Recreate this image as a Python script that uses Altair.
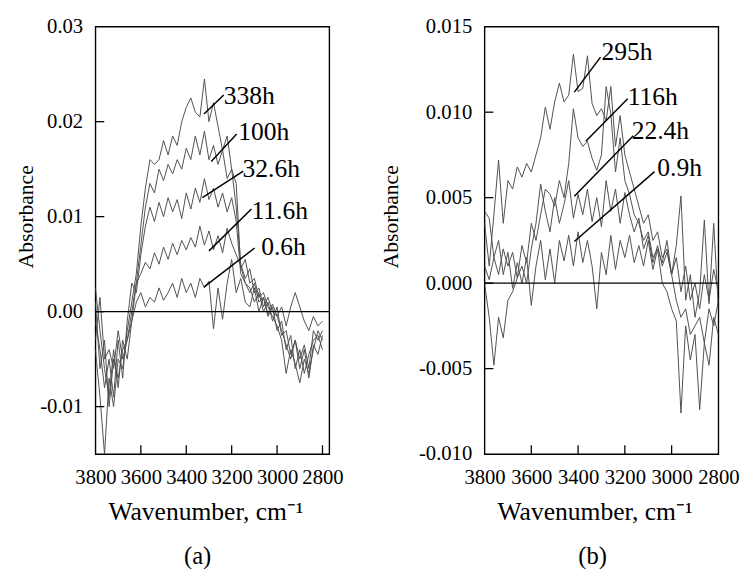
import altair as alt
import pandas as pd

FONT = "Liberation Serif"

# ---------------- data ----------------
wavenumber = [3800, 3780, 3760, 3740, 3720, 3700, 3680, 3660, 3640, 3620,
              3600, 3580, 3560, 3540, 3520, 3500, 3480, 3460, 3440, 3420,
              3400, 3380, 3360, 3340, 3320, 3300, 3280, 3260, 3240, 3220,
              3200, 3180, 3160, 3140, 3120, 3100, 3080, 3060, 3040, 3020,
              3000, 2980, 2960, 2940, 2920, 2900, 2880, 2860, 2840, 2820, 2800]

# panel (a)
a_names = ["338h", "100h", "32.6h", "11.6h", "0.6h"]
a_338h = [-0.0040, -0.0090, -0.0150, -0.0070, -0.0100, -0.0050, -0.0060, -0.0020, 0.0010, 0.0040,
          0.0090, 0.0130, 0.0160, 0.0155, 0.0160, 0.0180, 0.0165, 0.0185, 0.0175, 0.0200,
          0.0215, 0.0225, 0.0210, 0.0205, 0.0245, 0.0200, 0.0220, 0.0195, 0.0170, 0.0185,
          0.0150, 0.0135, 0.0045, 0.0055, 0.0030, 0.0035, 0.0015, 0.0020, 0.0005, -0.0005,
          -0.0015, -0.0030, -0.0065, -0.0040, -0.0055, -0.0075, -0.0050, -0.0065, -0.0040, -0.0020, -0.0030]
a_100h = [0.0025, -0.0020, -0.0060, -0.0090, -0.0040, -0.0080, -0.0030, -0.0050, -0.0010, 0.0030,
          0.0070, 0.0110, 0.0135, 0.0125, 0.0150, 0.0138, 0.0155, 0.0145, 0.0160, 0.0150,
          0.0172, 0.0160, 0.0185, 0.0165, 0.0190, 0.0160, 0.0175, 0.0155, 0.0170, 0.0140,
          0.0150, 0.0110, 0.0050, 0.0035, 0.0045, 0.0020, 0.0025, 0.0005, 0.0015, 0.0000,
          -0.0005, -0.0020, -0.0035, -0.0050, -0.0030, -0.0060, -0.0040, -0.0070, -0.0035, -0.0045, -0.0025]
a_32h = [-0.0010, -0.0040, -0.0080, -0.0050, -0.0090, -0.0030, -0.0070, -0.0010, 0.0030, 0.0020,
         0.0060, 0.0090, 0.0110, 0.0095, 0.0115, 0.0100, 0.0120, 0.0105, 0.0118, 0.0098,
         0.0125, 0.0108, 0.0130, 0.0115, 0.0140, 0.0118, 0.0130, 0.0110, 0.0125, 0.0105,
         0.0120, 0.0095, 0.0040, 0.0030, 0.0020, 0.0030, 0.0010, 0.0015, -0.0005, 0.0005,
         -0.0020, -0.0010, -0.0040, -0.0025, -0.0060, -0.0040, -0.0065, -0.0045, -0.0030, -0.0025, -0.0040]
a_11h = [0.0010, -0.0060, -0.0030, -0.0100, -0.0050, -0.0070, -0.0040, -0.0030, 0.0000, 0.0030,
         0.0040, 0.0052, 0.0045, 0.0062, 0.0050, 0.0068, 0.0055, 0.0072, 0.0060, 0.0075,
         0.0065, 0.0078, 0.0068, 0.0090, 0.0070, 0.0085, 0.0065, 0.0080, 0.0062, 0.0088,
         0.0072, 0.0060, 0.0048, 0.0030, 0.0025, 0.0010, 0.0020, 0.0000, 0.0010, -0.0010,
         0.0005, -0.0025, -0.0020, -0.0045, -0.0030, -0.0050, -0.0035, -0.0060, -0.0020, -0.0030, -0.0020]
a_06h = [-0.0030, 0.0015, -0.0050, -0.0040, -0.0060, -0.0020, -0.0050, -0.0030, -0.0010, 0.0010,
         0.0020, 0.0005, 0.0015, 0.0010, 0.0025, 0.0012, 0.0020, 0.0030, 0.0015, 0.0035,
         0.0020, 0.0030, 0.0015, 0.0035, 0.0025, 0.0032, -0.0018, 0.0025, -0.0008, 0.0030,
         0.0055, 0.0020, 0.0035, 0.0010, 0.0005, 0.0025, 0.0000, 0.0015, -0.0003, 0.0008,
         -0.0005, 0.0005, -0.0015, 0.0005, 0.0020, 0.0005, -0.0010, -0.0020, -0.0005, -0.0015, -0.0010]

# panel (b)
b_names = ["295h", "116h", "22.4h", "0.9h"]
b_295h = [0.0035, 0.0010, 0.0040, 0.0072, 0.0035, 0.0060, 0.0055, 0.0068, 0.0062, 0.0070,
          0.0065, 0.0075, 0.0085, 0.0103, 0.0090, 0.0106, 0.0117, 0.0106, 0.0110, 0.0134,
          0.0112, 0.0114, 0.0133, 0.0105, 0.0098, 0.0102, 0.0095, 0.0115, 0.0080, 0.0098,
          0.0075, 0.0065, 0.0055, 0.0045, 0.0035, 0.0040, 0.0025, 0.0030, 0.0015, 0.0020,
          0.0005, -0.0010, -0.0020, -0.0015, -0.0030, -0.0025, -0.0020, -0.0035, -0.0015, -0.0025, -0.0010]
b_116h = [0.0010, 0.0002, 0.0015, 0.0005, 0.0020, 0.0010, 0.0018, 0.0003, 0.0022, 0.0012,
          0.0035, 0.0025, 0.0040, 0.0055, 0.0052, 0.0045, 0.0060, 0.0050, 0.0070, 0.0102,
          0.0085, 0.0080, 0.0083, 0.0073, 0.0066, 0.0075, 0.0115, 0.0099, 0.0065, 0.0085,
          0.0060, 0.0052, 0.0040, 0.0035, 0.0025, 0.0030, 0.0015, 0.0020, 0.0000, -0.0005,
          -0.0015, -0.0022, -0.0076, -0.0025, -0.0045, -0.0030, -0.0074, -0.0035, -0.0048, -0.0020, -0.0030]
b_22h = [0.0000, -0.0020, -0.0048, -0.0020, -0.0032, -0.0010, -0.0005, 0.0003, 0.0010, 0.0000,
         0.0020, 0.0035, 0.0058, 0.0042, 0.0030, 0.0050, 0.0035, 0.0046, 0.0060, 0.0038,
         0.0052, 0.0040, 0.0055, 0.0036, 0.0050, 0.0033, 0.0060, 0.0042, 0.0055, 0.0035,
         0.0053, 0.0040, 0.0030, 0.0038, 0.0020, 0.0028, 0.0012, 0.0022, 0.0010, 0.0018,
         0.0005, 0.0022, 0.0051, -0.0010, 0.0005, -0.0020, -0.0005, 0.0037, -0.0012, 0.0035, -0.0015]
b_09h = [0.0042, 0.0038, 0.0015, 0.0025, 0.0005, 0.0018, -0.0003, 0.0012, 0.0000, 0.0015,
         -0.0013, 0.0010, 0.0025, 0.0002, 0.0020, 0.0000, 0.0025, 0.0013, 0.0028, 0.0010,
         0.0030, 0.0012, 0.0025, 0.0010, -0.0015, 0.0018, 0.0005, 0.0028, 0.0008, 0.0025,
         0.0015, 0.0028, 0.0012, 0.0022, 0.0010, 0.0025, 0.0008, 0.0020, 0.0012, 0.0025,
         0.0005, 0.0015, -0.0005, 0.0010, -0.0010, 0.0000, -0.0015, 0.0005, -0.0010, 0.0008, -0.0005]

# callouts (line start on curve, line end near label, label anchor)
a_call_x1 = [3322, 3290, 3329, 3300, 3321]
a_call_y1 = [0.0208, 0.0158, 0.0120, 0.0064, 0.0026]
a_call_x2 = [3235, 3178, 3149, 3113, 3099]
a_call_y2 = [0.0228, 0.0187, 0.0148, 0.0108, 0.0067]
a_text_x = [3235, 3171, 3152, 3113, 3070]
a_text_y = [0.0227, 0.0189, 0.0150, 0.0106, 0.0068]

b_call_x1 = [3416, 3367, 3416, 3416]
b_call_y1 = [0.01117, 0.0083, 0.00508, 0.00244]
b_call_x2 = [3304, 3188, 3164, 3073]
b_call_y2 = [0.01322, 0.01079, 0.00862, 0.00652]
b_text_x = [3300, 3188, 3171, 3061]
b_text_y = [0.01351, 0.0109, 0.00889, 0.0067]

# axes
x_labels = [3800, 3600, 3400, 3200, 3000, 2800]
a_y_labels = [-0.01, 0.0, 0.01, 0.02, 0.03]
b_y_labels = [-0.010, -0.005, 0.0, 0.005, 0.010, 0.015]
a_x_ticks = [3600, 3400, 3200, 3000, 2800]
b_x_ticks = [3600, 3400, 3200, 3000]
a_y_ticks = [-0.01, 0.0, 0.01, 0.02]
b_y_ticks = [-0.005, 0.0, 0.005, 0.010]
zero_line = [0.0]

W, H = 238, 435
TICK = 9


def long_df(names, series):
    rows = []
    for name, vals in zip(names, series):
        for w, v in zip(wavenumber, vals):
            rows.append({"w": w, "A": v, "s": name})
    return pd.DataFrame(rows)


def panel(names, series, xdom, ydom, ylabels, yfmt, xticks, yticks,
          cx1, cy1, cx2, cy2, tx, ty, tag, tag_dx, ytitle_pad):
    xs = alt.Scale(domain=xdom, reverse=True, nice=False, zero=False)
    ys = alt.Scale(domain=ydom, nice=False, zero=False)
    minus = "\u2212"
    xax = alt.Axis(
        values=x_labels, format="d", ticks=False, domain=False, grid=False,
        labelFlush=False, labelOverlap=False,
        labelFont=FONT, labelFontSize=21, labelColor="black", labelPadding=13,
        title="Wavenumber, cm\u207b\u00b9", titleFont=FONT, titleFontSize=26,
        titleFontWeight="normal", titleColor="black", titlePadding=12,
        titleX=112)
    yax = alt.Axis(
        values=ylabels,
        labelExpr=f"replace(format(datum.value, '{yfmt}'), '{minus}', '-')",
        ticks=False, domain=False, grid=False, labelOverlap=False,
        labelFont=FONT, labelFontSize=21, labelColor="black", labelPadding=13,
        title="Absorbance", titleFont=FONT, titleFontSize=22,
        titleFontWeight="normal", titleColor="black",
        titlePadding=ytitle_pad, titleY=193)

    lines = alt.Chart(long_df(names, series)).mark_line(
        color="#505050", strokeWidth=1, clip=True
    ).encode(
        x=alt.X("w:Q", scale=xs, axis=xax),
        y=alt.Y("A:Q", scale=ys, axis=yax),
        detail="s:N",
    )
    zero = alt.Chart(pd.DataFrame({"v": zero_line})).mark_rule(
        color="black", strokeWidth=1.4
    ).encode(y=alt.Y("v:Q", scale=ys, axis=yax))
    ytk = alt.Chart(pd.DataFrame({"v": yticks})).mark_rule(
        color="black", strokeWidth=1.3
    ).encode(y=alt.Y("v:Q", scale=ys, axis=yax), x=alt.value(0), x2=alt.value(TICK))
    xtk = alt.Chart(pd.DataFrame({"v": xticks})).mark_rule(
        color="black", strokeWidth=1.3
    ).encode(x=alt.X("v:Q", scale=xs, axis=xax), y=alt.value(H), y2=alt.value(H - TICK))
    cdf = pd.DataFrame({"x1": cx1, "y1": cy1, "x2": cx2, "y2": cy2})
    call = alt.Chart(cdf).mark_rule(color="black", strokeWidth=1.5).encode(
        x=alt.X("x1:Q", scale=xs, axis=xax), x2="x2:Q",
        y=alt.Y("y1:Q", scale=ys, axis=yax), y2="y2:Q")
    tdf = pd.DataFrame({"x": tx, "y": ty, "t": names})
    txt = alt.Chart(tdf).mark_text(
        align="left", baseline="middle", font=FONT, fontSize=26, color="black"
    ).encode(x=alt.X("x:Q", scale=xs, axis=xax), y=alt.Y("y:Q", scale=ys, axis=yax), text="t:N")
    return alt.layer(lines, zero, ytk, xtk, call, txt).properties(
        width=W, height=H,
        title=alt.TitleParams(tag, orient="bottom", anchor="middle", frame="group",
                              font=FONT, fontSize=25, fontWeight="normal", color="black",
                              offset=20, dx=tag_dx),
    )


pa = panel(a_names, [a_338h, a_100h, a_32h, a_11h, a_06h], [2770, 3800], [-0.015, 0.03],
           a_y_labels, ".2f", a_x_ticks, a_y_ticks,
           a_call_x1, a_call_y1, a_call_x2, a_call_y2, a_text_x, a_text_y, "(a)", -15, 2)
pb = panel(b_names, [b_295h, b_116h, b_22h, b_09h], [2800, 3800], [-0.010, 0.015],
           b_y_labels, ".3f", b_x_ticks, b_y_ticks,
           b_call_x1, b_call_y1, b_call_x2, b_call_y2, b_text_x, b_text_y, "(b)", -9, 16)

chart = alt.hconcat(pa, pb, spacing=36).properties(
    padding={"left": 6, "top": 2, "right": 0, "bottom": 0},
    background="white",
).configure_view(stroke="black", strokeWidth=1.4)

chart.save("out.html", embed_options={"renderer": "svg", "actions": False})
